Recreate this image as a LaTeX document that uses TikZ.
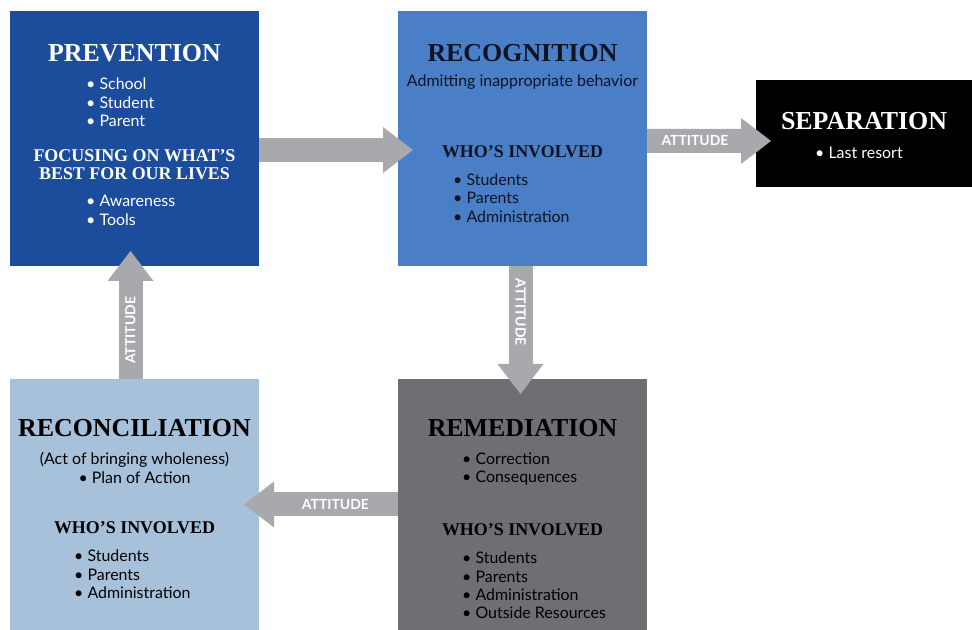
\documentclass[tikz,border=0pt]{standalone}
\usepackage{fontspec}
\setmainfont{Liberation Serif}
\setsansfont{Lato}
\usepackage{xcolor}
\usetikzlibrary{positioning,arrows.meta}

\definecolor{prevblue}{HTML}{1C4C9C}
\definecolor{recogblue}{HTML}{4A7EC6}
\definecolor{reconblue}{HTML}{A8C1DB}
\definecolor{remgray}{HTML}{6E6F72}
\definecolor{flowgray}{HTML}{A7A9AC}
\definecolor{inkdark}{HTML}{0F1424}

\begin{document}
\begin{tikzpicture}[x=1bp, y=1bp, node distance=113bp and 139bp,
    box/.style={rectangle, minimum width=249bp, minimum height=255bp, inner sep=0pt, outer sep=0pt},
    title/.style={font=\rmfamily\bfseries\fontsize{26}{28}\selectfont, inner sep=0pt},
    caps/.style={font=\rmfamily\bfseries\fontsize{18}{18}\selectfont, align=center, inner sep=0pt},
    items/.style={font=\sffamily\fontsize{16}{18.5}\selectfont, align=left, anchor=west, inner sep=0pt},
    plain/.style={font=\sffamily\fontsize{16}{18.5}\selectfont, align=center, inner sep=0pt},
    flow/.style={draw=flowgray, line width=24bp, shorten >=-15bp,
        -{Triangle[length=30bp 0 0, width=46bp 0 0, line width=0pt 0 0]}},
    tag/.style={text=white, font=\sffamily\bfseries\fontsize{14}{14}\selectfont, inner sep=0pt}
]
    \useasboundingbox (0,0) rectangle (972,630);

    % the five stages
    \node [box, fill=prevblue] (prev) at (134.5,491.5) {};
    \node [box, fill=recogblue, right=of prev] (recog) {};
    \node [box, fill=reconblue, minimum height=251bp, below=of prev] (recon) {};
    \node [box, fill=remgray, minimum height=251bp, right=of recon] (rem) {};
    \node [box, fill=black, minimum width=216bp, minimum height=107bp,
        right=109bp of recog, yshift=5bp] (sep) {};

    % prevention
    \node [title, text=white] (prevtitle) at ([yshift=-42bp]prev.north) {PREVENTION};
    \node [items, text=white] (prevlist) at ([xshift=76bp, yshift=-91.5bp]prev.north west)
        {• School\\• Student\\• Parent};
    \node [caps, text=white] (prevfocus) at ([yshift=-154bp]prev.north)
        {FOCUSING ON WHAT’S\\BEST FOR OUR LIVES};
    \node [items, text=white] (prevtools) at ([xshift=76bp, yshift=-199.5bp]prev.north west)
        {• Awareness\\• Tools};

    % recognition
    \node [title, text=inkdark] (recogtitle) at ([yshift=-42bp]recog.north) {RECOGNITION};
    \node [plain, text=inkdark] (recogsub) at ([yshift=-71bp]recog.north)
        {Admitting inappropriate behavior};
    \node [caps, text=inkdark] (recogwho) at ([yshift=-141bp]recog.north) {WHO’S INVOLVED};
    \node [items, text=inkdark] (recoglist) at ([xshift=55bp, yshift=-187bp]recog.north west)
        {• Students\\• Parents\\• Administration};

    % separation
    \node [title, text=white] (septitle) at ([yshift=-41bp]sep.north) {SEPARATION};
    \node [items, text=white] (seplist) at ([xshift=59bp, yshift=-73bp]sep.north west)
        {• Last resort};

    % reconciliation
    \node [title, text=black] (recontitle) at ([yshift=-49bp]recon.north) {RECONCILIATION};
    \node [plain, text=black] (reconsub) at ([yshift=-89bp]recon.north)
        {(Act of bringing wholeness)\\• Plan of Action};
    \node [caps, text=black] (reconwho) at ([yshift=-149bp]recon.north) {WHO’S INVOLVED};
    \node [items, text=black] (reconlist) at ([xshift=64bp, yshift=-195.5bp]recon.north west)
        {• Students\\• Parents\\• Administration};

    % remediation
    \node [title, text=black] (remtitle) at ([yshift=-49bp]rem.north) {REMEDIATION};
    \node [items, text=black] (remlist) at ([xshift=64bp, yshift=-90bp]rem.north west)
        {• Correction\\• Consequences};
    \node [caps, text=black] (remwho) at ([yshift=-151bp]rem.north) {WHO’S INVOLVED};
    \node [items, text=black] (remlist2) at ([xshift=64bp, yshift=-206.5bp]rem.north west)
        {• Students\\• Parents\\• Administration\\• Outside Resources};

    % arrows between stages
    \draw [flow] ([yshift=-11.5bp]prev.east) -- ([yshift=-11.5bp]recog.west);
    \draw [flow] ([yshift=-2.5bp]recog.east) -- node [tag, pos=0.44] (att1) {ATTITUDE}
        ([yshift=-7.5bp]sep.west);
    \draw [flow] ([xshift=-2bp]recog.south) -- node [tag, pos=0.41, rotate=-90] (att2) {ATTITUDE}
        ([xshift=-2bp]rem.north);
    \draw [flow] (rem.west) -- node [tag, pos=0.45] (att3) {ATTITUDE} (recon.east);
    \draw [flow] ([xshift=-4bp]recon.north) -- node [tag, pos=0.43, rotate=90] (att4) {ATTITUDE}
        ([xshift=-4bp]prev.south);
\end{tikzpicture}
\end{document}
